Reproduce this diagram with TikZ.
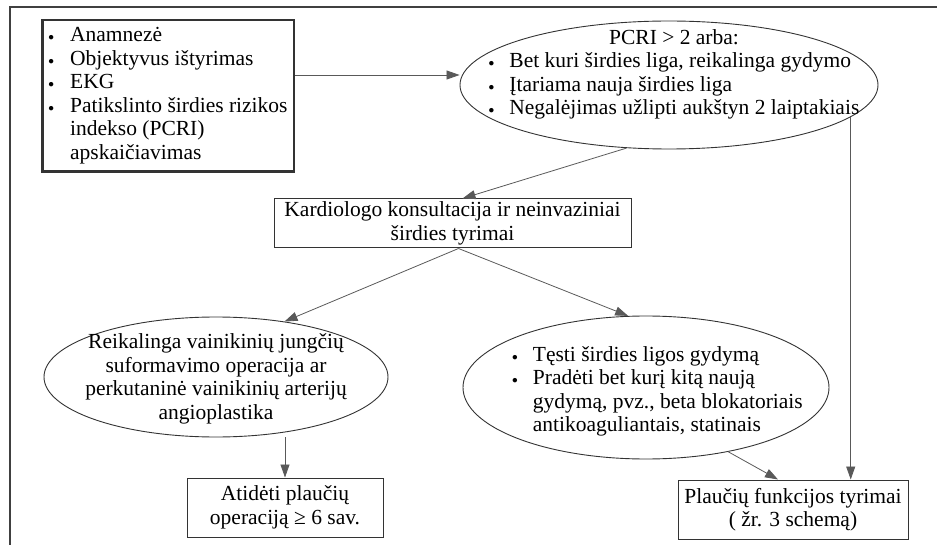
\documentclass[tikz,border=0pt]{standalone}
\usepackage{graphicx}
\usepackage{fontspec}
\setmainfont{Liberation Serif}
\usetikzlibrary{shapes,arrows.meta,positioning,calc}

\newcommand{\smallbullet}{\raisebox{1.2pt}{\scalebox{0.55}{$\bullet$}}}
\newcommand{\inoval}[3]{\makebox[0pt]{\hspace*{#1}\raisebox{#2}[0pt][0pt]{#3}\hspace*{-#1}}}

\begin{document}
\begin{tikzpicture}[x=1pt, y=-1pt,
    every node/.style={font=\fontsize{21.5}{23.5}\selectfont},
    box/.style={draw=black!80, line width=1pt, inner sep=0pt},
    oval/.style={ellipse, draw=black!80, line width=0.9pt, inner sep=0pt},
    arr/.style={draw=black!65, line width=0.8pt, -{Triangle[length=13pt,width=9pt]}}]
    \useasboundingbox (0,0) rectangle (937,545);
    \draw[black!75, line width=1.6pt] (10,545) -- (10,7) -- (937,7);

    \node[box, line width=2.5pt, minimum width=251.5, minimum height=151.5] (hist) at (168,96)
        {\begin{tabular}{@{}l@{\hspace{16pt}}l@{}}
         \smallbullet & Anamnezė\\
         \smallbullet & Objektyvus ištyrimas\\
         \smallbullet & EKG\\
         \smallbullet & Patikslinto širdies rizikos\\
                      & indekso (PCRI)\\
                      & apskaičiavimas
         \end{tabular}};
    \node[oval, minimum width=418, minimum height=128] (risk) at (669,85)
        {\inoval{5pt}{5pt}{\begin{tabular}{@{}l@{\hspace{15pt}}l@{}}
         \multicolumn{2}{c}{PCRI > 2 arba:}\\
         \smallbullet & Bet kuri širdies liga, reikalinga gydymo\\
         \smallbullet & Įtariama nauja širdies liga\\
         \smallbullet & Negalėjimas užlipti aukštyn 2 laiptakiais
         \end{tabular}}};
    \node[box, minimum width=357, minimum height=49, align=center] (card) at (452.5,223.5)
        {Kardiologo konsultacija ir neinvaziniai\\širdies tyrimai};
    \node[oval, minimum width=344, minimum height=120] (surg) at (216,377)
        {\inoval{0pt}{-7.5pt}{\begin{tabular}{@{}c@{}}
         Reikalinga vainikinių jungčių\\
         suformavimo operacija ar\\
         perkutaninė vainikinių arterijų\\
         angioplastika
         \end{tabular}}};
    \node[oval, minimum width=366, minimum height=143] (meds) at (646,387.5)
        {\inoval{11.5pt}{-9.5pt}{\begin{tabular}{@{}l@{\hspace{15pt}}l@{}}
         \smallbullet & Tęsti širdies ligos gydymą\\
         \smallbullet & Pradėti bet kurį kitą naują\\
                      & gydymą, pvz., beta blokatoriais\\
                      & antikoaguliantais, statinais
         \end{tabular}}};
    \node[box, minimum width=196, minimum height=59, align=center] (delay) at (285,507.5)
        {Atidėti plaučių\\operaciją ≥ 6 sav.};
    \node[box, minimum width=230, minimum height=59, align=center] (pft) at (793,509.5)
        {Plaučių funkcijos tyrimai\\( žr. 3 schemą)};

    \draw[arr] ([yshift=21pt]hist.east) -- ([yshift=21pt]hist.east -| risk.west);
    \draw[arr] (risk.236) -- ([xshift=10pt]card.north);
    \draw[arr] (risk.-10.7) -- (risk.-10.7 |- pft.north);
    \draw[arr] ([xshift=6pt]card.south) -- (surg.39.5);
    \draw[arr] ([xshift=6pt]card.south) -- (meds.104);
    \draw[arr] (surg.south -| delay.north) -- (delay.north);
    \draw[arr] (meds.-38.4) -- ([xshift=-15pt]pft.north);
\end{tikzpicture}
\end{document}
